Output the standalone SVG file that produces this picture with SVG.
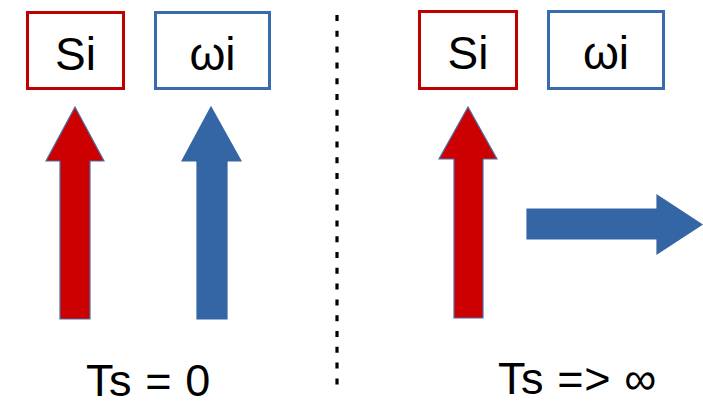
<svg xmlns="http://www.w3.org/2000/svg" width="703" height="407" viewBox="0 0 703 407">
<style>
.box{fill:#fff;stroke-width:3}
.red{stroke:#C00000}
.blue{stroke:#3B6BAF}
.lbl{font-family:"Liberation Sans",Arial,sans-serif;font-size:46px;fill:#000;text-anchor:middle}
.cap{font-family:"Liberation Sans",Arial,sans-serif;font-size:45px;fill:#000;letter-spacing:0.6px}
.ar{fill:#CC0000;stroke:#4A6FA5;stroke-width:1.2}
.ab{fill:#3465A4;stroke:#3A66A2;stroke-width:1.2}
</style>
<rect width="703" height="407" fill="#fff"/>
<g id="si-left"><rect class="box red" x="27.5" y="12.5" width="96" height="76"/><text class="lbl" x="75.5" y="70">Si</text></g>
<g id="wi-left"><rect class="box blue" x="155.5" y="12.5" width="114" height="76"/><text class="lbl" x="212.5" y="70">ωi</text></g>
<g id="si-right"><rect class="box red" x="419.5" y="11.5" width="97" height="77"/><text class="lbl" x="468" y="69">Si</text></g>
<g id="wi-right"><rect class="box blue" x="548.5" y="11.5" width="115" height="77"/><text class="lbl" x="606" y="69">ωi</text></g>
<g id="connectors">
<line x1="337" y1="15" x2="337" y2="394" stroke="#000" stroke-width="3.2" stroke-dasharray="6 9.8"/>
<polygon class="ar" points="75,107 104,161 90,161 90,319 60,319 60,161 46,161"/>
<polygon class="ab" points="211,107 241,161 227,161 227,319 197,319 197,161 182,161"/>
<polygon class="ar" points="468,107 497,159 483,159 483,318 454,318 454,159 439,159"/>
<polygon class="ab" points="702,224.5 657,254 657,239 527,239 527,209 657,209 657,195"/>
</g>
<text class="cap" x="86" y="396">Ts = 0</text>
<text class="cap" x="498" y="394">Ts =&gt; ∞</text>
</svg>
